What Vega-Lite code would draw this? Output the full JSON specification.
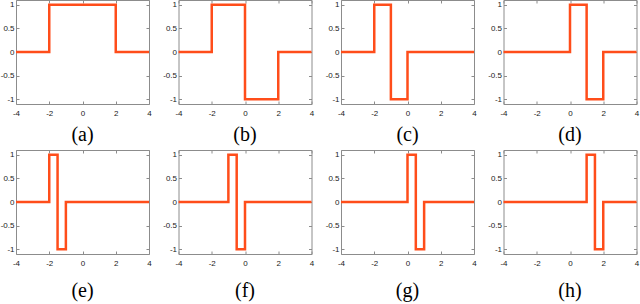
{
  "$schema": "https://vega.github.io/schema/vega-lite/v6.json",
  "autosize": {"type": "none"},
  "padding": {"left": 16, "top": 0, "right": 624, "bottom": 304},
  "background": "white",
  "datasets": {
    "haar": [
      {"p": "a", "x": -4, "y": 0}, {"p": "a", "x": -2, "y": 1}, {"p": "a", "x": 2, "y": 0}, {"p": "a", "x": 4, "y": 0},
      {"p": "b", "x": -4, "y": 0}, {"p": "b", "x": -2, "y": 1}, {"p": "b", "x": 0, "y": -1}, {"p": "b", "x": 2, "y": 0}, {"p": "b", "x": 4, "y": 0},
      {"p": "c", "x": -4, "y": 0}, {"p": "c", "x": -2, "y": 1}, {"p": "c", "x": -1, "y": -1}, {"p": "c", "x": 0, "y": 0}, {"p": "c", "x": 4, "y": 0},
      {"p": "d", "x": -4, "y": 0}, {"p": "d", "x": 0, "y": 1}, {"p": "d", "x": 1, "y": -1}, {"p": "d", "x": 2, "y": 0}, {"p": "d", "x": 4, "y": 0},
      {"p": "e", "x": -4, "y": 0}, {"p": "e", "x": -2, "y": 1}, {"p": "e", "x": -1.5, "y": -1}, {"p": "e", "x": -1, "y": 0}, {"p": "e", "x": 4, "y": 0},
      {"p": "f", "x": -4, "y": 0}, {"p": "f", "x": -1, "y": 1}, {"p": "f", "x": -0.5, "y": -1}, {"p": "f", "x": 0, "y": 0}, {"p": "f", "x": 4, "y": 0},
      {"p": "g", "x": -4, "y": 0}, {"p": "g", "x": 0, "y": 1}, {"p": "g", "x": 0.5, "y": -1}, {"p": "g", "x": 1, "y": 0}, {"p": "g", "x": 4, "y": 0},
      {"p": "h", "x": -4, "y": 0}, {"p": "h", "x": 1, "y": 1}, {"p": "h", "x": 1.5, "y": -1}, {"p": "h", "x": 2, "y": 0}, {"p": "h", "x": 4, "y": 0}
    ]
  },
  "data": {"name": "haar"},
  "columns": 4,
  "spacing": {"row": 46, "column": 29.5},
  "bounds": "flush",
  "align": "all",
  "config": {
    "view": {"stroke": null},
    "scale": {"nice": false},
    "axis": {
      "labelFont": "Liberation Sans", "labelFontSize": 8, "labelColor": "#1a1a1a",
      "domainColor": "#8c8c8c", "tickColor": "#8c8c8c", "tickSize": -3,
      "grid": false, "labelFlush": false, "labelOverlap": false
    },
    "axisX": {"labelPadding": 8},
    "axisY": {"labelPadding": 5},
    "title": {"font": "Liberation Serif", "fontSize": 20, "fontWeight": "normal", "color": "#000000"},
    "line": {"interpolate": "step-after", "color": "#ff4d1a", "strokeWidth": 2.5}
  },
  "concat": [
    {"title": {"text": "(a)", "orient": "bottom", "offset": 8}, "width": 133, "height": 104,
     "transform": [{"filter": "datum.p == 'a'"}],
     "layer": [
       {"mark": "line", "encoding": {
         "x": {"field": "x", "type": "quantitative", "scale": {"domain": [-4, 4], "nice": false}, "axis": {"values": [-4, -2, 0, 2, 4], "labelExpr": "toString(datum.value)", "title": null}},
         "y": {"field": "y", "type": "quantitative", "scale": {"domain": [-1.1, 1.1], "nice": false}, "axis": {"values": [-1, -0.5, 0, 0.5, 1], "labelExpr": "toString(datum.value)", "title": null}}}},
       {"mark": {"type": "line", "opacity": 0}, "encoding": {
         "x": {"field": "x", "type": "quantitative", "axis": {"orient": "top", "values": [-4, -2, 0, 2, 4], "labels": false, "title": null}},
         "y": {"field": "y", "type": "quantitative", "axis": {"orient": "right", "values": [-1, -0.5, 0, 0.5, 1], "labels": false, "title": null}}}}
     ],
     "resolve": {"axis": {"x": "independent", "y": "independent"}}},
    {"title": {"text": "(b)", "orient": "bottom", "offset": 8}, "width": 133, "height": 104,
     "transform": [{"filter": "datum.p == 'b'"}],
     "layer": [
       {"mark": "line", "encoding": {
         "x": {"field": "x", "type": "quantitative", "scale": {"domain": [-4, 4], "nice": false}, "axis": {"values": [-4, -2, 0, 2, 4], "labelExpr": "toString(datum.value)", "title": null}},
         "y": {"field": "y", "type": "quantitative", "scale": {"domain": [-1.1, 1.1], "nice": false}, "axis": {"values": [-1, -0.5, 0, 0.5, 1], "labelExpr": "toString(datum.value)", "title": null}}}},
       {"mark": {"type": "line", "opacity": 0}, "encoding": {
         "x": {"field": "x", "type": "quantitative", "axis": {"orient": "top", "values": [-4, -2, 0, 2, 4], "labels": false, "title": null}},
         "y": {"field": "y", "type": "quantitative", "axis": {"orient": "right", "values": [-1, -0.5, 0, 0.5, 1], "labels": false, "title": null}}}}
     ],
     "resolve": {"axis": {"x": "independent", "y": "independent"}}},
    {"title": {"text": "(c)", "orient": "bottom", "offset": 8}, "width": 133, "height": 104,
     "transform": [{"filter": "datum.p == 'c'"}],
     "layer": [
       {"mark": "line", "encoding": {
         "x": {"field": "x", "type": "quantitative", "scale": {"domain": [-4, 4], "nice": false}, "axis": {"values": [-4, -2, 0, 2, 4], "labelExpr": "toString(datum.value)", "title": null}},
         "y": {"field": "y", "type": "quantitative", "scale": {"domain": [-1.1, 1.1], "nice": false}, "axis": {"values": [-1, -0.5, 0, 0.5, 1], "labelExpr": "toString(datum.value)", "title": null}}}},
       {"mark": {"type": "line", "opacity": 0}, "encoding": {
         "x": {"field": "x", "type": "quantitative", "axis": {"orient": "top", "values": [-4, -2, 0, 2, 4], "labels": false, "title": null}},
         "y": {"field": "y", "type": "quantitative", "axis": {"orient": "right", "values": [-1, -0.5, 0, 0.5, 1], "labels": false, "title": null}}}}
     ],
     "resolve": {"axis": {"x": "independent", "y": "independent"}}},
    {"title": {"text": "(d)", "orient": "bottom", "offset": 8}, "width": 133, "height": 104,
     "transform": [{"filter": "datum.p == 'd'"}],
     "layer": [
       {"mark": "line", "encoding": {
         "x": {"field": "x", "type": "quantitative", "scale": {"domain": [-4, 4], "nice": false}, "axis": {"values": [-4, -2, 0, 2, 4], "labelExpr": "toString(datum.value)", "title": null}},
         "y": {"field": "y", "type": "quantitative", "scale": {"domain": [-1.1, 1.1], "nice": false}, "axis": {"values": [-1, -0.5, 0, 0.5, 1], "labelExpr": "toString(datum.value)", "title": null}}}},
       {"mark": {"type": "line", "opacity": 0}, "encoding": {
         "x": {"field": "x", "type": "quantitative", "axis": {"orient": "top", "values": [-4, -2, 0, 2, 4], "labels": false, "title": null}},
         "y": {"field": "y", "type": "quantitative", "axis": {"orient": "right", "values": [-1, -0.5, 0, 0.5, 1], "labels": false, "title": null}}}}
     ],
     "resolve": {"axis": {"x": "independent", "y": "independent"}}},
    {"title": {"text": "(e)", "orient": "bottom", "offset": 14}, "width": 133, "height": 104,
     "transform": [{"filter": "datum.p == 'e'"}],
     "layer": [
       {"mark": "line", "encoding": {
         "x": {"field": "x", "type": "quantitative", "scale": {"domain": [-4, 4], "nice": false}, "axis": {"values": [-4, -2, 0, 2, 4], "labelExpr": "toString(datum.value)", "title": null}},
         "y": {"field": "y", "type": "quantitative", "scale": {"domain": [-1.1, 1.1], "nice": false}, "axis": {"values": [-1, -0.5, 0, 0.5, 1], "labelExpr": "toString(datum.value)", "title": null}}}},
       {"mark": {"type": "line", "opacity": 0}, "encoding": {
         "x": {"field": "x", "type": "quantitative", "axis": {"orient": "top", "values": [-4, -2, 0, 2, 4], "labels": false, "title": null}},
         "y": {"field": "y", "type": "quantitative", "axis": {"orient": "right", "values": [-1, -0.5, 0, 0.5, 1], "labels": false, "title": null}}}}
     ],
     "resolve": {"axis": {"x": "independent", "y": "independent"}}},
    {"title": {"text": "(f)", "orient": "bottom", "offset": 14}, "width": 133, "height": 104,
     "transform": [{"filter": "datum.p == 'f'"}],
     "layer": [
       {"mark": "line", "encoding": {
         "x": {"field": "x", "type": "quantitative", "scale": {"domain": [-4, 4], "nice": false}, "axis": {"values": [-4, -2, 0, 2, 4], "labelExpr": "toString(datum.value)", "title": null}},
         "y": {"field": "y", "type": "quantitative", "scale": {"domain": [-1.1, 1.1], "nice": false}, "axis": {"values": [-1, -0.5, 0, 0.5, 1], "labelExpr": "toString(datum.value)", "title": null}}}},
       {"mark": {"type": "line", "opacity": 0}, "encoding": {
         "x": {"field": "x", "type": "quantitative", "axis": {"orient": "top", "values": [-4, -2, 0, 2, 4], "labels": false, "title": null}},
         "y": {"field": "y", "type": "quantitative", "axis": {"orient": "right", "values": [-1, -0.5, 0, 0.5, 1], "labels": false, "title": null}}}}
     ],
     "resolve": {"axis": {"x": "independent", "y": "independent"}}},
    {"title": {"text": "(g)", "orient": "bottom", "offset": 14}, "width": 133, "height": 104,
     "transform": [{"filter": "datum.p == 'g'"}],
     "layer": [
       {"mark": "line", "encoding": {
         "x": {"field": "x", "type": "quantitative", "scale": {"domain": [-4, 4], "nice": false}, "axis": {"values": [-4, -2, 0, 2, 4], "labelExpr": "toString(datum.value)", "title": null}},
         "y": {"field": "y", "type": "quantitative", "scale": {"domain": [-1.1, 1.1], "nice": false}, "axis": {"values": [-1, -0.5, 0, 0.5, 1], "labelExpr": "toString(datum.value)", "title": null}}}},
       {"mark": {"type": "line", "opacity": 0}, "encoding": {
         "x": {"field": "x", "type": "quantitative", "axis": {"orient": "top", "values": [-4, -2, 0, 2, 4], "labels": false, "title": null}},
         "y": {"field": "y", "type": "quantitative", "axis": {"orient": "right", "values": [-1, -0.5, 0, 0.5, 1], "labels": false, "title": null}}}}
     ],
     "resolve": {"axis": {"x": "independent", "y": "independent"}}},
    {"title": {"text": "(h)", "orient": "bottom", "offset": 14}, "width": 133, "height": 104,
     "transform": [{"filter": "datum.p == 'h'"}],
     "layer": [
       {"mark": "line", "encoding": {
         "x": {"field": "x", "type": "quantitative", "scale": {"domain": [-4, 4], "nice": false}, "axis": {"values": [-4, -2, 0, 2, 4], "labelExpr": "toString(datum.value)", "title": null}},
         "y": {"field": "y", "type": "quantitative", "scale": {"domain": [-1.1, 1.1], "nice": false}, "axis": {"values": [-1, -0.5, 0, 0.5, 1], "labelExpr": "toString(datum.value)", "title": null}}}},
       {"mark": {"type": "line", "opacity": 0}, "encoding": {
         "x": {"field": "x", "type": "quantitative", "axis": {"orient": "top", "values": [-4, -2, 0, 2, 4], "labels": false, "title": null}},
         "y": {"field": "y", "type": "quantitative", "axis": {"orient": "right", "values": [-1, -0.5, 0, 0.5, 1], "labels": false, "title": null}}}}
     ],
     "resolve": {"axis": {"x": "independent", "y": "independent"}}}
  ]
}
